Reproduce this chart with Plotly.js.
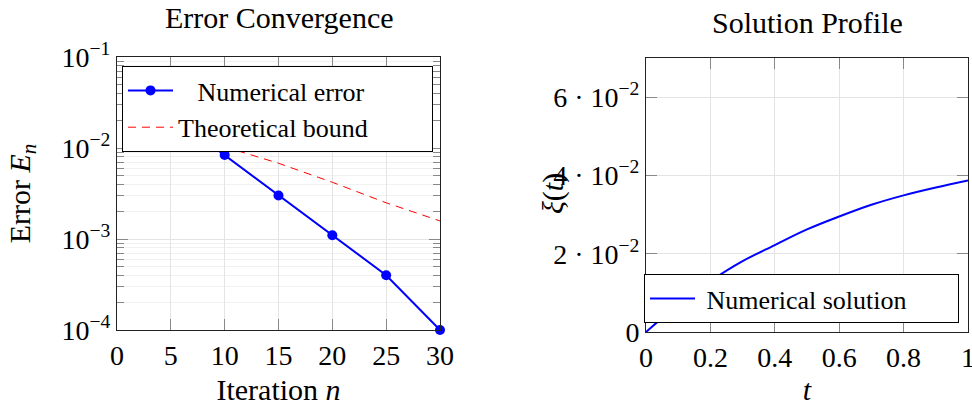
<!DOCTYPE html>
<html>
<head>
<meta charset="utf-8">
<script src="https://cdn.plot.ly/plotly-3.0.1.min.js"></script>
<style>html,body{margin:0;padding:0;background:#fff;}</style>
</head>
<body>
<div id="chart" style="width:972px;height:406px;"></div>
<script>
// ---- data ----
const iterN = [5, 10, 15, 20, 25, 30];
const numericalError = [2.3e-2, 8.4e-3, 3.0e-3, 1.1e-3, 4.0e-4, 1.0e-4];
const boundN = [5, 10, 15, 20, 25, 30];
const theoreticalBound = [1.64e-2, 1.03e-2, 6.8e-3, 4.2e-3, 2.5e-3, 1.58e-3];

const timeT = [0, 0.1, 0.2, 0.3, 0.4, 0.5, 0.6, 0.7, 0.8, 0.9, 1.0];
const solutionXi = [0, 0.0070, 0.0130, 0.0181, 0.0222, 0.0262, 0.0295, 0.0325, 0.0349, 0.0369, 0.0387];

const leftXTicks = [0, 5, 10, 15, 20, 25, 30];
const leftYTicks = [1e-4, 1e-3, 1e-2, 1e-1];
const leftYTickText = ['10<sup>−4</sup>', '10<sup>−3</sup>', '10<sup>−2</sup>', '10<sup>−1</sup>'];
const rightXTicks = [0, 0.2, 0.4, 0.6, 0.8, 1];
const rightXTickText = ['0', '0.2', '0.4', '0.6', '0.8', '1'];
const rightYTicks = [0, 0.02, 0.04, 0.06];
const rightYTickText = ['0', '2 · 10<sup>−2</sup>', '4 · 10<sup>−2</sup>', '6 · 10<sup>−2</sup>'];

// minor log ticks (2..9 within each decade)
const minorLogTicks = [];
for (let d = -4; d < -1; d++) {
  for (let m = 2; m <= 9; m++) minorLogTicks.push(m * Math.pow(10, d));
}

const FONT = 'Liberation Serif, Times New Roman, serif';
const FS = 28;   // tick labels
const FL = 26;   // legend
const FT = 30;   // titles
const NB = '\u00a0';
const pad = (n) => NB.repeat(n);   // legend padding (reference legend text is centred in a wider box)

const traces = [
  {
    x: iterN, y: numericalError, name: pad(3) + 'Numerical error',
    type: 'scatter', mode: 'lines+markers',
    line: {color: '#0000ff', width: 2},
    marker: {color: '#0000ff', size: 10},
    cliponaxis: false,
    xaxis: 'x', yaxis: 'y', legend: 'legend'
  },
  {
    x: boundN, y: theoreticalBound, name: 'Theoretical bound' + pad(9),
    type: 'scatter', mode: 'lines',
    line: {color: '#ff0000', width: 1, dash: '8px,6px'},
    xaxis: 'x', yaxis: 'y', legend: 'legend'
  },
  {
    x: timeT, y: solutionXi, name: pad(1) + 'Numerical solution' + pad(7),
    type: 'scatter', mode: 'lines',
    line: {color: '#0000ff', width: 2, shape: 'spline'},
    xaxis: 'x2', yaxis: 'y2', legend: 'legend2'
  }
];

const axisCommon = {
  showline: true, linecolor: '#222', linewidth: 1, mirror: 'allticks',
  ticks: 'inside', ticklen: 11, tickwidth: 1, tickcolor: '#888',
  showgrid: true, gridcolor: '#e4e4e4', gridwidth: 1,
  zeroline: false, tickfont: {family: FONT, size: FS, color: '#000'},
  tickmode: 'array', fixedrange: true, ticklabeloverflow: 'allow'
};

const layout = {
  width: 972, height: 406,
  margin: {l: 0, r: 0, t: 0, b: 0},
  paper_bgcolor: '#fff', plot_bgcolor: '#fff',
  font: {family: FONT, size: FS, color: '#000'},
  showlegend: true,
  xaxis: Object.assign({}, axisCommon, {
    domain: [117 / 972, 440 / 972], range: [0, 30], anchor: 'y',
    tickvals: leftXTicks,
    title: {text: 'Iteration <i>n</i>', font: {family: FONT, size: FT}, standoff: 12}
  }),
  yaxis: Object.assign({}, axisCommon, {
    domain: [(406 - 330) / 406, (406 - 57) / 406], type: 'log', range: [-4, -1], anchor: 'x',
    tickvals: leftYTicks, ticktext: leftYTickText,
    minor: {tickmode: 'array', tickvals: minorLogTicks, ticks: 'inside', ticklen: 7,
            tickcolor: '#888', showgrid: true, gridcolor: '#f1f1f1', gridwidth: 1},
    title: {text: 'Error <i>E</i><sub><i>n</i></sub>', font: {family: FONT, size: FT}, standoff: 22}
  }),
  xaxis2: Object.assign({}, axisCommon, {
    domain: [646 / 972, 968 / 972], range: [0, 1], anchor: 'y2',
    tickvals: rightXTicks, ticktext: rightXTickText,
    title: {text: '<i>t</i>', font: {family: FONT, size: FT}, standoff: 12}
  }),
  yaxis2: Object.assign({}, axisCommon, {
    domain: [(406 - 332) / 406, (406 - 58) / 406], range: [0, 0.07], anchor: 'x2',
    tickvals: rightYTicks, ticktext: rightYTickText
  }),
  legend: {
    x: 122 / 972, y: (406 - 66) / 406, xanchor: 'left', yanchor: 'top',
    bgcolor: '#fff', bordercolor: '#000', borderwidth: 1,
    font: {family: FONT, size: FL, color: '#000'}, itemwidth: 45,
    tracegroupgap: 0
  },
  legend2: {
    x: 644 / 972, y: (406 - 323) / 406, xanchor: 'left', yanchor: 'bottom',
    bgcolor: '#fff', bordercolor: '#000', borderwidth: 1,
    font: {family: FONT, size: FL, color: '#000'}, itemwidth: 45
  },
  annotations: [
    {text: 'Error Convergence', xref: 'paper', yref: 'paper', x: 279 / 972, y: (406 - 17) / 406,
     xanchor: 'center', yanchor: 'middle', showarrow: false, font: {family: FONT, size: FT}},
    {text: 'Solution Profile', xref: 'paper', yref: 'paper', x: 807 / 972, y: (406 - 23) / 406,
     xanchor: 'center', yanchor: 'middle', showarrow: false, font: {family: FONT, size: FT}},
    {text: '<i>ξ</i>(<i>t</i>)', xref: 'paper', yref: 'paper', x: 553 / 972, y: (406 - 194) / 406,
     xanchor: 'center', yanchor: 'middle', textangle: -90, showarrow: false, font: {family: FONT, size: FT}}
  ]
};

Plotly.newPlot('chart', traces, layout, {displayModeBar: false, staticPlot: true});
</script>
</body>
</html>
